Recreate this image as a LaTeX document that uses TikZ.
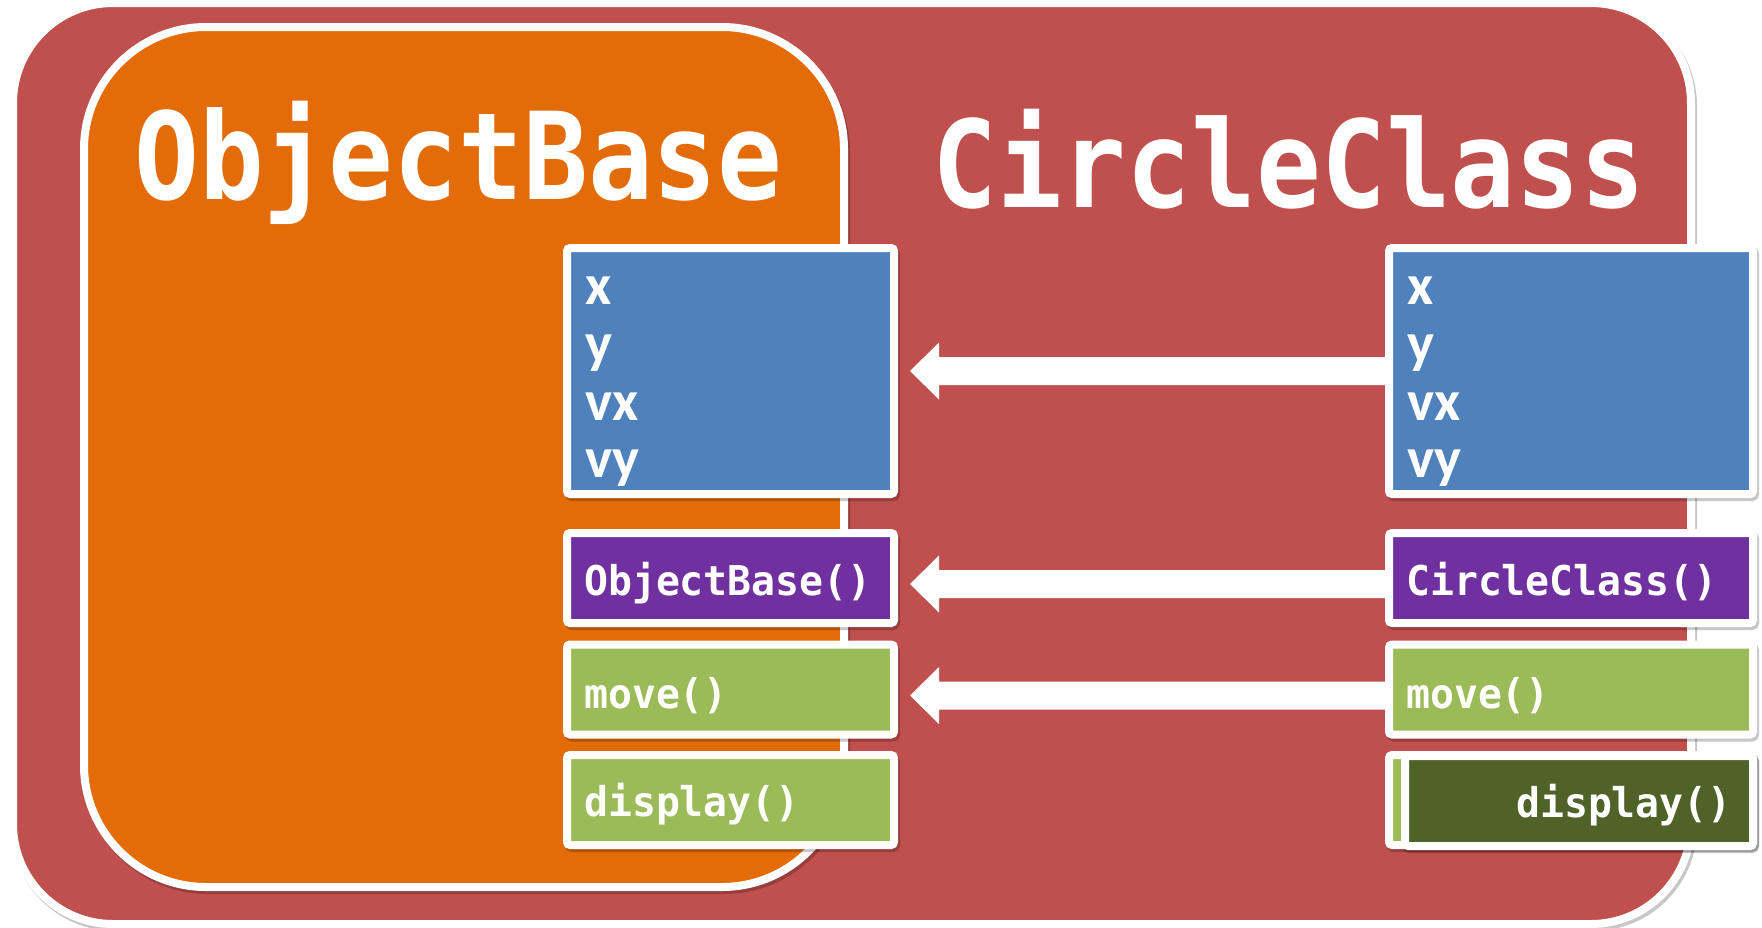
\documentclass[tikz,border=0pt]{standalone}
\usepackage{fontspec}
\usetikzlibrary{calc,shadows}
\newfontfamily\titlefont[FakeStretch=0.89]{DejaVu Sans Mono}
\newfontfamily\codefont[FakeStretch=0.97]{DejaVu Sans Mono}
\newfontfamily\varfont{Carlito}
\definecolor{cred}{HTML}{C0504D}
\definecolor{corange}{HTML}{E36C09}
\definecolor{cblue}{HTML}{4F81BD}
\definecolor{cpurple}{HTML}{7030A0}
\definecolor{cgreen}{HTML}{9BBB59}
\definecolor{cdkgreen}{HTML}{4F6228}
\newcommand\inheritarrow[3]{%
  \fill[white] ($(#1.east)+(12,#3)$) -- ++(29,-28.5) -- ++(0,14.5)
    -- ($(#2.west)+(0,#3-14)$) -- ($(#2.west)+(0,#3+14)$)
    -- ($(#1.east)+(41,#3+14)$) -- ++(0,14.5) -- cycle;}
\begin{document}
\begin{tikzpicture}[x=1pt,y=-1pt,
  softshadow/.style={drop shadow={shadow xshift=2pt, shadow yshift=-3pt,
      opacity=0.22, fill=black, draw=black, line width=8pt}},
  container/.style={rectangle, draw=white, line width=8pt, inner sep=0pt, softshadow},
  member/.style={rectangle, draw=white, line width=8pt, rounded corners=3pt,
      inner sep=0pt, minimum width=327pt, minimum height=90pt, softshadow},
  titletext/.style={anchor=base west, inner sep=0pt, text=white,
      font=\titlefont\bfseries\fontsize{121}{121}\selectfont},
  vartext/.style={anchor=base west, inner sep=0pt, text=white,
      font=\varfont\bfseries\fontsize{57}{57}\selectfont},
  codetext/.style={anchor=base west, inner sep=0pt, text=white,
      font=\codefont\bfseries\fontsize{41}{41}\selectfont}]
\useasboundingbox (0,0) rectangle (1762,927);
\fill[white] (0,0) rectangle (1762,927);

% containers
\node[container, fill=cred, rounded corners=100pt, minimum width=1678pt, minimum height=921pt] (circle) at (852,463.5) {};
\node[container, fill=corange, rounded corners=122pt, minimum width=760pt, minimum height=860pt] (base) at (464,457) {};

% titles
\node[titletext] (tob) at (134,199) {ObjectBase};
\node[titletext] (tcc) at (932,207) {CircleClass};

% left column (ObjectBase)
\node[member, fill=cblue, minimum height=246pt] (lvars) at (730.5,371) {};
\node[member, fill=cpurple] (lctor) at (730.5,578) {};
\node[member, fill=cgreen] (lmove) at (730.5,689.5) {};
\node[member, fill=cgreen] (ldisp) at (730.5,800) {};

% right column (CircleClass)
\node[member, fill=cblue, minimum width=364pt, minimum height=246pt] (rvars) at (1571,371) {};
\node[member, fill=cpurple, minimum width=364pt] (rctor) at (1571,578) {};
\node[member, fill=cgreen, minimum width=364pt] (rmove) at (1571,689.5) {};
\node[member, fill=cgreen, minimum width=364pt] (rdispold) at (1571,800) {};
\node[member, fill=cdkgreen, minimum width=348pt] (rdisp) at (1579,801) {};

% member texts
\node[vartext] (lx) at (585,304) {x};
\node[vartext] (ly) at (585,362) {y};
\node[vartext] (lvx) at (585,420) {vx};
\node[vartext] (lvy) at (585,477) {vy};
\node[vartext] (rx) at (1407,304) {x};
\node[vartext] (ry) at (1407,362) {y};
\node[vartext] (rvx) at (1407,420) {vx};
\node[vartext] (rvy) at (1407,477) {vy};

\node[codetext] (lctort) at (584,595) {ObjectBase()};
\node[codetext] (lmovet) at (584,708) {move()};
\node[codetext] (ldispt) at (584,816) {display()};
\node[codetext] (rctort) at (1406,595) {CircleClass()};
\node[codetext] (rmovet) at (1406,708) {move()};
\node[codetext] (rdispt) at (1516,817) {display()};

% inheritance arrows
\inheritarrow{lvars}{rvars}{0}
\inheritarrow{lctor}{rctor}{6}
\inheritarrow{lmove}{rmove}{6}
\end{tikzpicture}
\end{document}
